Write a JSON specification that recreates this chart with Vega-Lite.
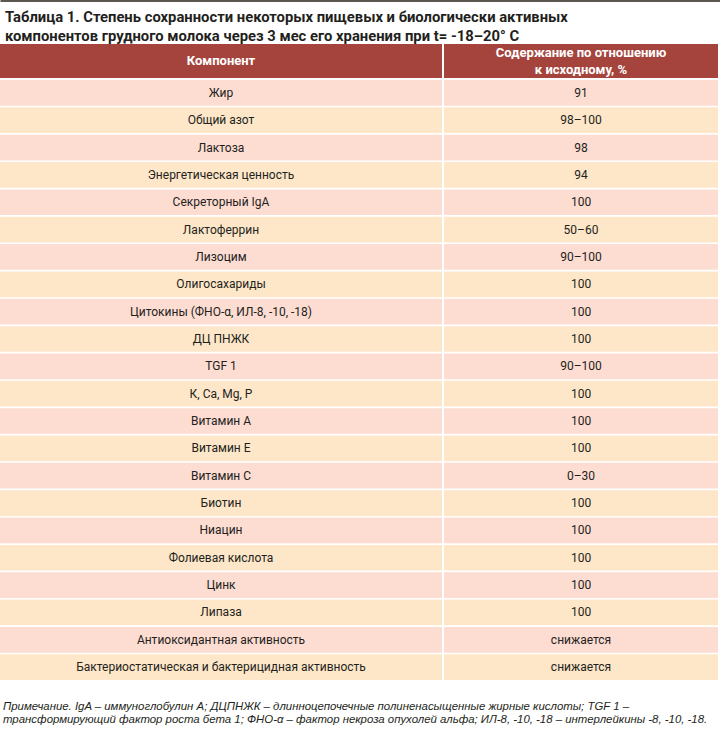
{
  "$schema": "https://vega.github.io/schema/vega-lite/v6.json",
  "padding": {"top": 0, "left": 0, "right": 0, "bottom": 0},
  "background": "white",
  "config": {"view": {"stroke": null}, "concat": {"spacing": 0}},
  "datasets": {
    "title": [
      {"line": 1, "text": "Таблица 1. Степень сохранности некоторых пищевых и биологически активных"},
      {"line": 2, "text": "компонентов грудного молока через 3 мес его хранения при t= -18–20° C"}
    ],
    "rows": [
      {"idx": 1, "component": "Жир", "value": "91"},
      {"idx": 2, "component": "Общий азот", "value": "98–100"},
      {"idx": 3, "component": "Лактоза", "value": "98"},
      {"idx": 4, "component": "Энергетическая ценность", "value": "94"},
      {"idx": 5, "component": "Секреторный IgA", "value": "100"},
      {"idx": 6, "component": "Лактоферрин", "value": "50–60"},
      {"idx": 7, "component": "Лизоцим", "value": "90–100"},
      {"idx": 8, "component": "Олигосахариды", "value": "100"},
      {"idx": 9, "component": "Цитокины (ФНО-α, ИЛ-8, -10, -18)", "value": "100"},
      {"idx": 10, "component": "ДЦ ПНЖК", "value": "100"},
      {"idx": 11, "component": "TGF 1", "value": "90–100"},
      {"idx": 12, "component": "К, Ca, Mg, P", "value": "100"},
      {"idx": 13, "component": "Витамин А", "value": "100"},
      {"idx": 14, "component": "Витамин Е", "value": "100"},
      {"idx": 15, "component": "Витамин С", "value": "0–30"},
      {"idx": 16, "component": "Биотин", "value": "100"},
      {"idx": 17, "component": "Ниацин", "value": "100"},
      {"idx": 18, "component": "Фолиевая кислота", "value": "100"},
      {"idx": 19, "component": "Цинк", "value": "100"},
      {"idx": 20, "component": "Липаза", "value": "100"},
      {"idx": 21, "component": "Антиоксидантная активность", "value": "снижается"},
      {"idx": 22, "component": "Бактериостатическая и бактерицидная активность", "value": "снижается"}
    ],
    "notes": [
      {"line": 1, "text": "Примечание. IgA – иммуноглобулин А; ДЦПНЖК – длинноцепочечные полиненасыщенные жирные кислоты; TGF 1 –"},
      {"line": 2, "text": "трансформирующий фактор роста бета 1; ФНО-α – фактор некроза опухолей альфа; ИЛ-8, -10, -18 – интерлейкины -8, -10, -18."}
    ]
  },
  "vconcat": [
    {
      "width": 720,
      "height": 43.5,
      "data": {"name": "title"},
      "mark": {"type": "text", "align": "left", "baseline": "middle", "font": "Roboto", "fontWeight": "bold", "fontSize": 14.8, "color": "#231F20", "dx": 5, "dy": 5.5},
      "encoding": {
        "x": {"datum": 0, "type": "quantitative", "scale": {"domain": [0, 1]}, "axis": {"orient": "top", "domain": true, "domainColor": "#5A5650", "domainWidth": 3, "labels": false, "ticks": false, "grid": false, "title": null}},
        "y": {"field": "line", "type": "ordinal", "scale": {"type": "point", "padding": 0.645}, "axis": null},
        "text": {"field": "text"}
      }
    },
    {
      "spacing": 2,
      "vconcat": [
        {
          "spacing": 2,
          "hconcat": [
            {
              "width": 442,
              "height": 34,
              "data": {"values": [{"h": "Компонент"}]},
              "layer": [
                {"mark": {"type": "rect", "color": "#A5443D"}, "encoding": {}},
                {"mark": {"type": "text", "color": "white", "font": "Roboto", "fontWeight": "bold", "fontSize": 13, "baseline": "middle"}, "encoding": {"text": {"field": "h"}}}
              ]
            },
            {
              "width": 274,
              "height": 34,
              "data": {"values": [{"h": "Содержание по отношению\nк исходному, %"}]},
              "layer": [
                {"mark": {"type": "rect", "color": "#A5443D"}, "encoding": {}},
                {"mark": {"type": "text", "color": "white", "font": "Roboto", "fontWeight": "bold", "fontSize": 13, "baseline": "middle", "lineBreak": "\n", "lineHeight": 16.5, "dy": -8}, "encoding": {"text": {"field": "h"}}}
              ]
            }
          ]
        },
        {
          "spacing": 2,
          "hconcat": [
            {
              "width": 442,
              "height": 600,
              "data": {"name": "rows"},
              "encoding": {"y": {"field": "idx", "type": "ordinal", "scale": {"paddingInner": 0.06, "paddingOuter": 0}, "axis": null}},
              "layer": [
                {"mark": "rect", "encoding": {"color": {"condition": {"test": "datum.idx % 2 == 1", "value": "#FDDCD2"}, "value": "#FEE7C9"}}},
                {"mark": {"type": "text", "color": "#231F20", "font": "Roboto", "fontSize": 12, "baseline": "middle"}, "encoding": {"text": {"field": "component"}}}
              ]
            },
            {
              "width": 274,
              "height": 600,
              "data": {"name": "rows"},
              "encoding": {"y": {"field": "idx", "type": "ordinal", "scale": {"paddingInner": 0.06, "paddingOuter": 0}, "axis": null}},
              "layer": [
                {"mark": "rect", "encoding": {"color": {"condition": {"test": "datum.idx % 2 == 1", "value": "#FDDCD2"}, "value": "#FEE7C9"}}},
                {"mark": {"type": "text", "color": "#231F20", "font": "Roboto", "fontSize": 12, "baseline": "middle"}, "encoding": {"text": {"field": "value"}}}
              ]
            }
          ]
        }
      ]
    },
    {
      "width": 720,
      "height": 26,
      "data": {"name": "notes"},
      "mark": {"type": "text", "align": "left", "baseline": "middle", "font": "Liberation Sans", "fontStyle": "italic", "fontSize": 11.4, "color": "#231F20", "dx": 3, "dy": 20},
      "encoding": {
        "x": {"datum": 0, "type": "quantitative", "scale": {"domain": [0, 1]}, "axis": null},
        "y": {"field": "line", "type": "ordinal", "scale": {"type": "point", "padding": 0.5}, "axis": null},
        "text": {"field": "text"}
      }
    }
  ]
}
